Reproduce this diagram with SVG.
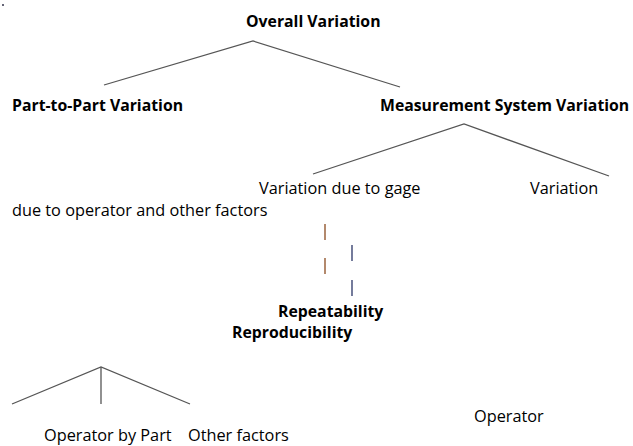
<svg xmlns="http://www.w3.org/2000/svg" width="633" height="446" viewBox="0 0 633 446">
<style>
text{font-family:"Open Sans","Noto Sans","DejaVu Sans",sans-serif;fill:#000}
.b{font-weight:bold;font-size:15.8px}
.r{font-size:16.3px}
.ln{stroke:#555;stroke-width:1.3;fill:none}
.br{stroke:#8a4a1e;stroke-width:1.3}
.bl{stroke:#2a3566;stroke-width:1.3}
</style>
<rect width="633" height="446" fill="#fff"/>
<rect x="2" y="4" width="2" height="2" fill="#667"/>
<g id="connectors">
<polyline class="ln" points="104,85 253,41 400,87"/>
<polyline class="ln" points="313,174 464,124 609,176"/>
<polyline class="ln" points="12,404 101,367 190,404"/>
<line class="ln" x1="101" y1="367" x2="101" y2="404"/>
<line class="br" x1="325" y1="224" x2="325" y2="240"/>
<line class="br" x1="325" y1="258" x2="325" y2="274"/>
<line class="bl" x1="352" y1="245" x2="352" y2="261"/>
<line class="bl" x1="352" y1="280" x2="352" y2="296"/>
</g>
<g id="n-overall"><text class="b" x="246" y="27">Overall Variation</text></g>
<g id="n-part"><text class="b" x="12" y="111">Part-to-Part Variation</text></g>
<g id="n-msv"><text class="b" x="380" y="111">Measurement System Variation</text></g>
<g id="n-gage"><text class="r" x="259" y="194">Variation due to gage</text></g>
<g id="n-var"><text class="r" x="530" y="194">Variation</text></g>
<g id="n-op"><text class="r" x="12" y="216">due to operator and other factors</text></g>
<g id="n-rep"><text class="b" x="278" y="317">Repeatability</text></g>
<g id="n-repro"><text class="b" x="232" y="338">Reproducibility</text></g>
<g id="n-operator"><text class="r" x="474" y="422">Operator</text></g>
<g id="n-opbypart"><text class="r" x="44" y="441">Operator by Part</text></g>
<g id="n-other"><text class="r" x="188" y="441">Other factors</text></g>
</svg>
